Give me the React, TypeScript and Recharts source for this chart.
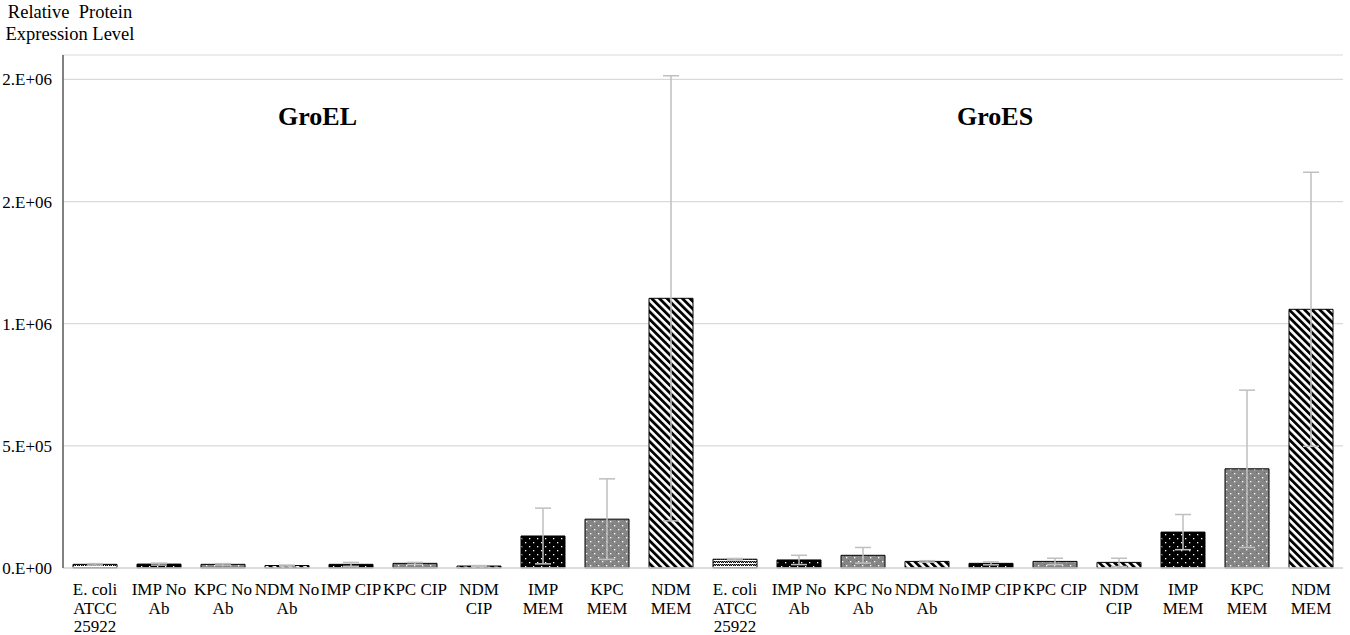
import React from "react"
import { BarChart, Bar, XAxis, YAxis, CartesianGrid, ErrorBar, Cell } from "recharts"

// strains measured for each protein (same order for GroEL and GroES)
const strains = [
  "E. coli\nATCC\n25922",
  "IMP No\nAb",
  "KPC No\nAb",
  "NDM No\nAb",
  "IMP CIP",
  "KPC CIP",
  "NDM\nCIP",
  "IMP\nMEM",
  "KPC\nMEM",
  "NDM\nMEM",
]
const strainPattern = ["ecoli", "imp", "kpc", "ndm", "imp", "kpc", "ndm", "imp", "kpc", "ndm"]

const groEL = [15000, 16000, 15000, 10000, 15000, 19000, 8000, 131000, 200000, 1104000]
const groELErr = [3000, 4000, 3000, 2000, 8000, 4000, 2000, 114000, 165000, 911000]
const groES = [36000, 33000, 52000, 27000, 19000, 27000, 23000, 147000, 406000, 1059000]
const groESErr = [3000, 19000, 32000, 3000, 6000, 13000, 17000, 72000, 322000, 561000]

const yTicks = [0, 500000, 1000000, 1500000, 2000000]
const yTickLabels = ["0.E+00", "5.E+05", "1.E+06", "2.E+06", "2.E+06"]

const serif = "'Liberation Serif', 'Times New Roman', serif"

const data = [
  ...groEL.map((v, i) => ({ key: `GroEL-${i}`, label: strains[i], value: v, err: groELErr[i], pattern: strainPattern[i] })),
  ...groES.map((v, i) => ({ key: `GroES-${i}`, label: strains[i], value: v, err: groESErr[i], pattern: strainPattern[i] })),
]
const labelByKey: Record<string, string> = {}
data.forEach((d) => (labelByKey[d.key] = d.label))

function CategoryTick(props: any) {
  const { x, y, payload } = props
  const lines = (labelByKey[payload.value] || "").split("\n")
  return (
    <text x={x} y={y + 25} textAnchor="middle" fontFamily={serif} fontSize={17} fill="#000">
      {lines.map((l: string, i: number) => (
        <tspan key={i} x={x} dy={i === 0 ? 0 : 18.5}>
          {l}
        </tspan>
      ))}
    </text>
  )
}

function Patterns() {
  return (
    <svg width={0} height={0} style={{ position: "absolute" }}>
      <defs>
        <pattern id="p-ecoli" width={4} height={3} patternUnits="userSpaceOnUse">
          <rect width={4} height={3} fill="#fff" />
          <rect x={0} y={0} width={1.5} height={1} fill="#000" />
          <rect x={2} y={0} width={1.5} height={1} fill="#000" />
          <rect x={1} y={1} width={1.5} height={1} fill="#000" />
          <rect x={3} y={1} width={1.5} height={1} fill="#000" />
        </pattern>
        <pattern id="p-imp" width={8} height={8} patternUnits="userSpaceOnUse">
          <rect width={8} height={8} fill="#000" />
          <rect x={1} y={2} width={1.3} height={1.3} fill="#fff" />
          <rect x={5} y={6} width={1.3} height={1.3} fill="#fff" />
        </pattern>
        <pattern id="p-kpc" width={8} height={8} patternUnits="userSpaceOnUse">
          <rect width={8} height={8} fill="#858585" />
          <rect x={0} y={0} width={1} height={1} fill="#6a6a6a" />
          <rect x={4} y={4} width={1} height={1} fill="#6a6a6a" />
          <rect x={2} y={1} width={1.3} height={1.3} fill="#fff" />
          <rect x={6} y={5} width={1.3} height={1.3} fill="#fff" />
        </pattern>
        <pattern id="p-ndm" width={5.4} height={10} patternUnits="userSpaceOnUse" patternTransform="rotate(-45)">
          <rect width={5.4} height={10} fill="#fff" />
          <rect x={0} y={0} width={2.8} height={10} fill="#000" />
        </pattern>
      </defs>
    </svg>
  )
}

export default function App() {
  return (
    <div style={{ position: "absolute", left: 0, top: 0, width: 1350, height: 635, background: "#fff" }}>
      <Patterns />
      <BarChart width={1350} height={635} data={data} margin={{ top: 55, right: 7, left: 0, bottom: 0 }} barSize={44}>
        <CartesianGrid vertical={false} stroke="#d9d9d9" strokeWidth={1.2} />
        <XAxis
          dataKey="key"
          height={67}
          interval={0}
          tickLine={false}
          tickSize={0}
          axisLine={{ stroke: "#d9d9d9", strokeWidth: 1.5 }}
          tick={<CategoryTick />}
        />
        <XAxis xAxisId="top" dataKey="key" orientation="top" height={0} tick={false} tickLine={false} axisLine={{ stroke: "#595959", strokeWidth: 1.5 }} />
        <YAxis
          width={63}
          domain={[0, 2100000]}
          ticks={yTicks}
          interval={0}
          tickLine={false}
          tickSize={0}
          tickMargin={11}
          axisLine={{ stroke: "#595959", strokeWidth: 1.5 }}
          tickFormatter={(v: number) => yTickLabels[yTicks.indexOf(v)]}
          tick={{ fill: "#000", fontSize: 17, fontFamily: serif }}
        />
        <YAxis yAxisId="right" orientation="right" width={0} domain={[0, 2100000]} tick={false} tickLine={false} axisLine={{ stroke: "#595959", strokeWidth: 1.5 }} />
        <Bar dataKey="value" stroke="#000" strokeWidth={1} isAnimationActive={false}>
          {data.map((d) => (
            <Cell key={d.key} fill={`url(#p-${d.pattern})`} />
          ))}
          <ErrorBar dataKey="err" width={8} stroke="#bfbfbf" strokeWidth={1.5} direction="y" />
        </Bar>
      </BarChart>
      <div
        style={{
          position: "absolute",
          left: 0,
          top: 1,
          width: 140,
          textAlign: "center",
          fontFamily: serif,
          fontSize: 18.5,
          lineHeight: "22px",
          color: "#000",
        }}
      >
        Relative&nbsp; Protein
        <br />
        Expression Level
      </div>
      <div style={{ position: "absolute", left: 278, top: 102, fontFamily: serif, fontSize: 26, fontWeight: "bold", color: "#000" }}>
        GroEL
      </div>
      <div style={{ position: "absolute", left: 957, top: 102, fontFamily: serif, fontSize: 26, fontWeight: "bold", color: "#000" }}>
        GroES
      </div>
    </div>
  )
}
